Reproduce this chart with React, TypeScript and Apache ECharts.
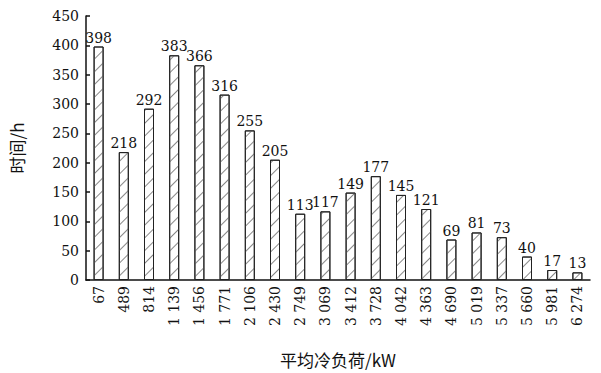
import React, { useEffect, useRef } from "react";
import * as echarts from "echarts";

const categories = ["67", "489", "814", "1 139", "1 456", "1 771", "2 106", "2 430", "2 749", "3 069", "3 412", "3 728", "4 042", "4 363", "4 690", "5 019", "5 337", "5 660", "5 981", "6 274"];
const hours = [398, 218, 292, 383, 366, 316, 255, 205, 113, 117, 149, 177, 145, 121, 69, 81, 73, 40, 17, 13];
const yMin = 0;
const yMax = 450;
const yStep = 50;

const NUM_FONT = "DejaVu Serif";
const CJK_FONT = "Noto Sans CJK SC";

export default function App() {
  const ref = useRef<HTMLDivElement>(null);
  useEffect(() => {
    document.body.style.margin = "0";
    const chart = echarts.init(ref.current!, null, { renderer: "svg" });
    chart.setOption({
      animation: false,
      backgroundColor: "#fff",
      textStyle: { fontFamily: NUM_FONT },
      grid: { left: 75, right: 11, top: 16, bottom: 89, containLabel: false },
      xAxis: {
        type: "category",
        data: categories,
        name: "平均冷负荷/kW",
        nameLocation: "middle",
        nameGap: 71,
        nameTextStyle: { fontFamily: CJK_FONT, fontSize: 17, color: "#111" },
        axisLine: { lineStyle: { color: "#111", width: 1.5 } },
        axisTick: { show: false },
        axisLabel: { rotate: 90, margin: 6, fontFamily: NUM_FONT, fontSize: 14, color: "#111", interval: 0 },
      },
      yAxis: {
        type: "value",
        min: yMin,
        max: yMax,
        interval: yStep,
        name: "时间/h",
        nameLocation: "middle",
        nameGap: 61,
        nameTextStyle: { fontFamily: CJK_FONT, fontSize: 17, color: "#111" },
        axisLine: { show: true, lineStyle: { color: "#111", width: 1.5 } },
        axisTick: { show: true, inside: true, length: 4, lineStyle: { color: "#111", width: 1.5 } },
        axisLabel: { margin: 7, fontFamily: NUM_FONT, fontSize: 14, color: "#111" },
        splitLine: { show: false },
      },
      series: [
        {
          type: "bar",
          data: hours,
          barWidth: 10,
          itemStyle: {
            color: "#fff",
            borderColor: "#222",
            borderWidth: 1,
            decal: {
              symbol: "rect",
              symbolSize: 1,
              color: "#888",
              dashArrayX: [10, 0],
              dashArrayY: [1, 8],
              rotation: -Math.PI / 4,
            },
          },
          label: {
            show: true,
            position: "top",
            distance: 2,
            fontFamily: NUM_FONT,
            fontSize: 14,
            color: "#111",
          },
        },
      ],
    });
    return () => chart.dispose();
  }, []);
  return <div ref={ref} style={{ width: 601, height: 373 }} />;
}
